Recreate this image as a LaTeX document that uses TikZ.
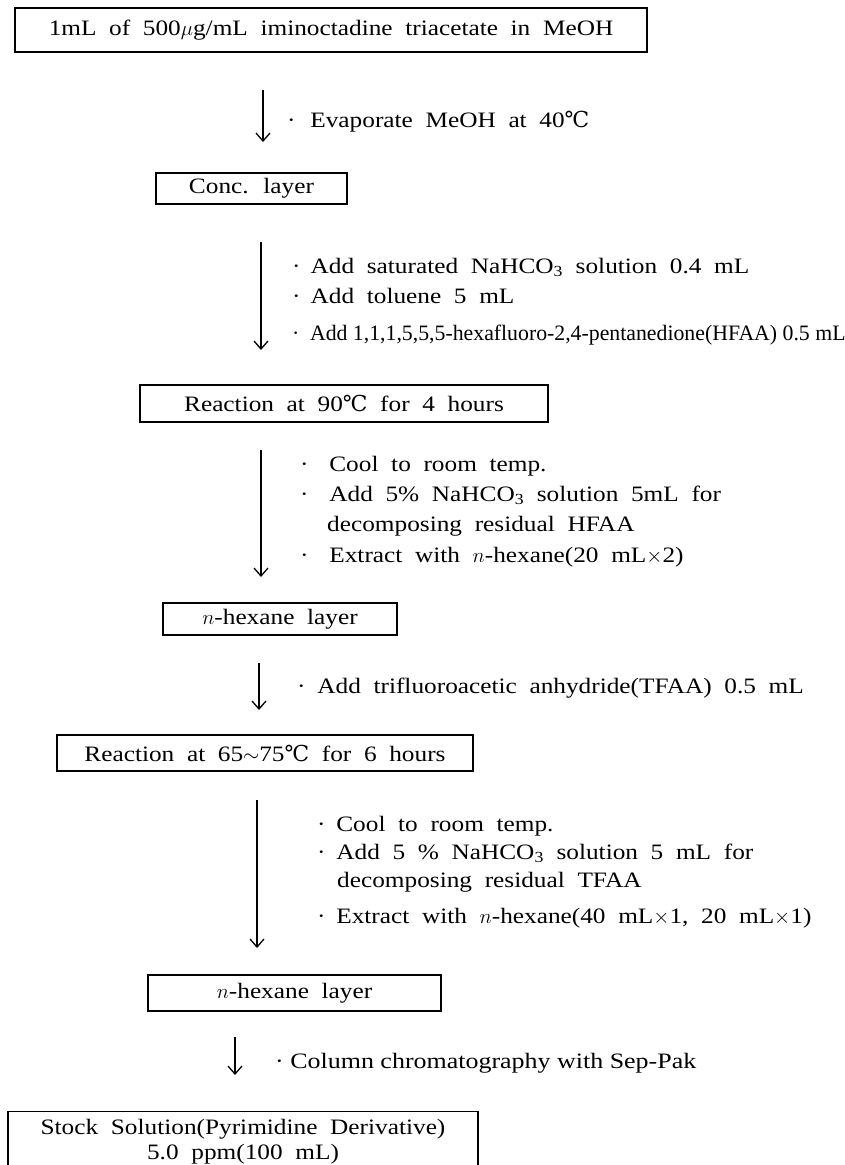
\documentclass[tikz,border=0pt]{standalone}
\usepackage{fontspec}
\setmainfont{Liberation Serif}[FakeStretch=1.15,WordSpace=2]
\newfontfamily\condfont{Liberation Serif}[FakeStretch=0.99]
\newfontfamily\colfont{Liberation Serif}[FakeStretch=1.18]
\newfontfamily\degfont{DejaVu Serif}
\newcommand{\dC}{{\degfont ℃}}
\usetikzlibrary{arrows.meta}

\begin{document}
\begin{tikzpicture}[x=1pt,y=1pt,yscale=-1,
  stepbox/.style={draw,line width=1.2pt,inner sep=0pt,align=center,font=\fontsize{22}{27}\selectfont},
  note/.style={anchor=west,inner sep=0pt,text height=15pt,text depth=4pt,font=\fontsize{22}{27}\selectfont},
  flow/.style={line width=1.3pt,-{Straight Barb[length=8pt,width=14pt]}}]
\useasboundingbox (0,0) rectangle (845,1165);
\clip (0,0) rectangle (845,1165);

%Shape: Rectangle
\node[stepbox,minimum width=632,minimum height=44] (start) at (331,30) {1mL of 500$\mu$g/mL iminoctadine triacetate in MeOH};
%Shape: Rectangle
\node[stepbox,minimum width=191,minimum height=31] (conc) at (251.5,188.5) {Conc. layer};
%Shape: Rectangle
\node[stepbox,minimum width=408,minimum height=37] (react1) at (344,403.5) {Reaction at 90\dC\ for 4 hours};
%Shape: Rectangle
\node[stepbox,minimum width=234,minimum height=32] (hex1) at (280,619) {$n$-hexane layer};
%Shape: Rectangle
\node[stepbox,minimum width=416,minimum height=36] (react2) at (265,753) {Reaction at 65$\sim$75\dC\ for 6 hours};
%Shape: Rectangle
\node[stepbox,minimum width=293,minimum height=36] (hex2) at (294.5,993) {$n$-hexane layer};
%Shape: Rectangle
\node[stepbox,minimum width=470,minimum height=60,anchor=north] (stock) at (243,1111) {Stock Solution(Pyrimidine Derivative)\\[-2pt]5.0 ppm(100 mL)};

%Straight Lines
\coordinate (a1t) at (263,90);  \coordinate (a1b) at (263,142);
\coordinate (a2t) at (261,242); \coordinate (a2b) at (261,350);
\coordinate (a3t) at (261,450); \coordinate (a3b) at (261,577);
\coordinate (a4t) at (259,663); \coordinate (a4b) at (259,710);
\coordinate (a5t) at (257,800); \coordinate (a5b) at (257,948);
\coordinate (a6t) at (235,1037); \coordinate (a6b) at (235,1075);
\draw[flow] (a1t) -- (a1b);
\draw[flow] (a2t) -- (a2b);
\draw[flow] (a3t) -- (a3b);
\draw[flow] (a4t) -- (a4b);
\draw[flow] (a5t) -- (a5b);
\draw[flow] (a6t) -- (a6b);

% Text Node
\node[note] (n1) at (287,122) {·\hspace{14.75pt}Evaporate MeOH at 40\dC};
% Text Node
\node[note] (n2a) at (292,268) {·\hspace{10pt}Add saturated NaHCO\textsubscript{3} solution 0.4 mL};
\node[note] (n2b) at (292,298) {·\hspace{10pt}Add toluene 5 mL};
\node[note] (n2c) at (292,335) {\condfont ·\hspace{10.6pt}Add 1,1,1,5,5,5-hexafluoro-2,4-pentanedione(HFAA) 0.5 mL};
% Text Node
\node[note] (n3a) at (300,466) {·\hspace{20.75pt}Cool to room temp.};
\node[note] (n3b) at (300,496) {·\hspace{20.75pt}Add 5\% NaHCO\textsubscript{3} solution 5mL for};
\node[note] (n3c) at (327,526) {decomposing residual HFAA};
\node[note] (n3d) at (300,557) {·\hspace{20.75pt}Extract with $n$-hexane(20 mL$\times$2)};
% Text Node
\node[note] (n4) at (297,688) {·\hspace{11.75pt}Add trifluoroacetic anhydride(TFAA) 0.5 mL};
% Text Node
\node[note] (n5a) at (317,826) {·\hspace{10.75pt}Cool to room temp.};
\node[note] (n5b) at (317,854) {·\hspace{10.75pt}Add 5 \% NaHCO\textsubscript{3} solution 5 mL for};
\node[note] (n5c) at (337,882) {decomposing residual TFAA};
\node[note] (n5d) at (317,918) {·\hspace{10.75pt}Extract with $n$-hexane(40 mL$\times$1, 20 mL$\times$1)};
% Text Node
\node[note] (n6) at (275,1063) {\colfont ·\hspace{6.5pt}Column chromatography with Sep-Pak};

\end{tikzpicture}
\end{document}
